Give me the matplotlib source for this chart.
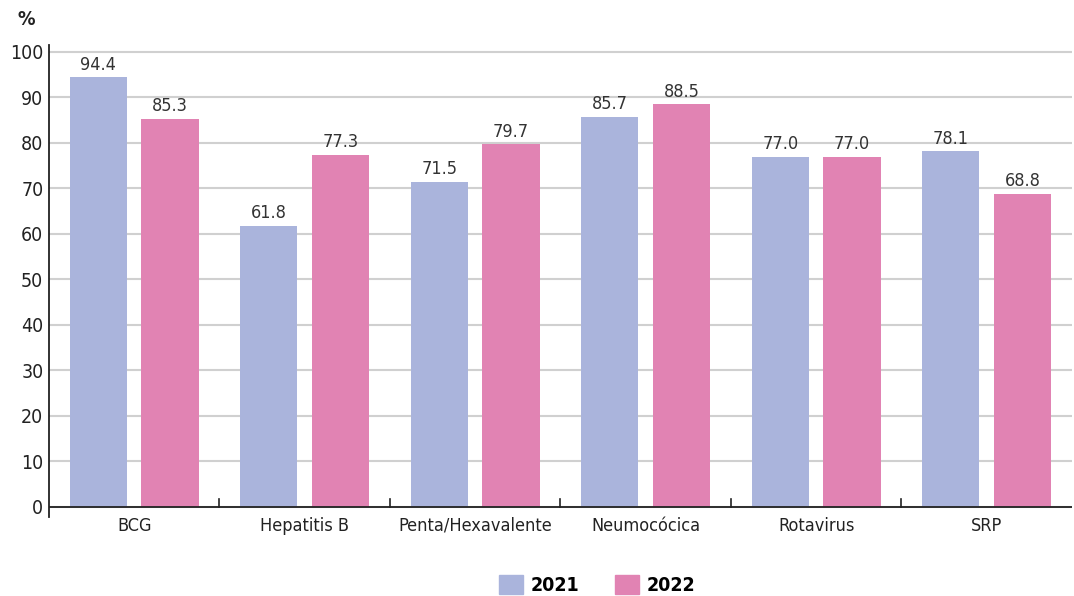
import matplotlib.pyplot as plt
import numpy as np
from matplotlib.patches import Patch

plt.rcParams['font.family'] = ['Liberation Sans Narrow', 'DejaVu Sans']
plt.rcParams['font.stretch'] = 'condensed'

categories = ['BCG', 'Hepatitis B', 'Penta/Hexavalente', 'Neumocócica', 'Rotavirus', 'SRP']
v2021 = [94.4, 61.8, 71.5, 85.7, 77.0, 78.1]
v2022 = [85.3, 77.3, 79.7, 88.5, 77.0, 68.8]
yticks = [0, 10, 20, 30, 40, 50, 60, 70, 80, 90, 100]

c2021 = '#aab4dc'
c2022 = '#e183b3'

fig = plt.figure(figsize=(10.74, 5.96), dpi=100)
ax = fig.add_axes([0.0456, 0.1326, 0.9525, 0.7919])

x = np.arange(len(categories))
w = 0.335
off = 0.21
ax.bar(x - off, v2021, w, color=c2021, zorder=2)
ax.bar(x + off, v2022, w, color=c2022, zorder=2)

for xi, a, b in zip(x, v2021, v2022):
    ax.text(xi - off, a + 0.8, '%.1f' % a, ha='center', va='bottom', fontsize=13, color='#333333')
    ax.text(xi + off, b + 0.8, '%.1f' % b, ha='center', va='bottom', fontsize=13, color='#333333')

ax.set_xlim(-0.5, len(categories) - 0.5)
ax.set_ylim(-2.2, 101.5)
ax.set_yticks(yticks)
ax.set_yticklabels([str(t) for t in yticks], fontsize=14, color='#222222')
ax.set_xticks(x)
ax.set_xticklabels(categories, fontsize=13, color='#222222')
ax.tick_params(axis='x', length=0, pad=0)
ax.tick_params(axis='y', length=0, pad=4)

ax.grid(axis='y', color='#d0d0d0', linewidth=1.5, zorder=0)
ax.axhline(0, color='#222222', linewidth=1.3, zorder=3)
# separadores entre grupos
for b in x[:-1] + 0.5:
    ax.plot([b, b], [0, 1.8], color='#222222', linewidth=1.2, zorder=3)

for s in ['top', 'right', 'bottom']:
    ax.spines[s].set_visible(False)
ax.spines['left'].set_color('#222222')
ax.spines['left'].set_linewidth(1.3)

fig.text(0.016, 0.968, '%', fontsize=14, fontweight='bold', color='#222222', ha='left', va='center')

handles = [Patch(color=c2021, label='2021'), Patch(color=c2022, label='2022')]
fig.legend(handles=handles, loc='center', bbox_to_anchor=(0.556, 0.018), ncol=2, frameon=False,
           prop={'size': 14, 'weight': 'semibold'}, handlelength=1.25, handleheight=1.1,
           columnspacing=1.8, handletextpad=0.4)

fig.savefig('out.png', dpi=100)
